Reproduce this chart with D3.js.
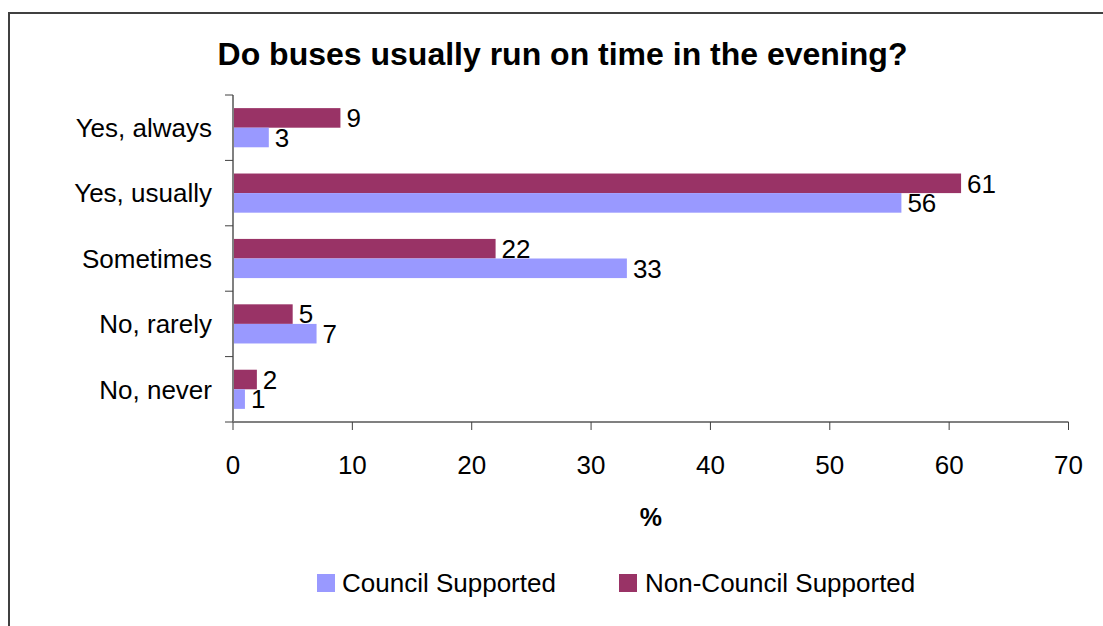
<!DOCTYPE html>
<html>
<head>
<meta charset="utf-8">
<script src="https://cdn.jsdelivr.net/npm/d3@7"></script>
<style>
  body { margin: 0; background: #fff; }
  svg { display: block; font-family: "Liberation Sans", Arial, sans-serif; }
</style>
</head>
<body>
<svg id="chart" width="1103" height="626"></svg>
<script>
// chart data
const categories = ["Yes, always", "Yes, usually", "Sometimes", "No, rarely", "No, never"];
const seriesNames = ["Non-Council Supported", "Council Supported"];
const nonCouncil = [9, 61, 22, 5, 2];
const council = [3, 56, 33, 7, 1];
const xTicks = [0, 10, 20, 30, 40, 50, 60, 70];
const colors = { "Council Supported": "#9999ff", "Non-Council Supported": "#993366" };

const svg = d3.select("#chart");

// outer frame (runs off the right and bottom edge)
svg.append("rect")
  .attr("x", 9).attr("y", 13)
  .attr("width", 1110).attr("height", 640)
  .attr("fill", "none")
  .attr("stroke", "#404040")
  .attr("stroke-width", 2);

// plot area
const plotLeft = 233, plotRight = 1068.5, plotTop = 95, plotBottom = 422;

const x = d3.scaleLinear().domain([0, 70]).range([plotLeft, plotRight]);
const y = d3.scaleBand().domain(categories).range([plotTop, plotBottom]).padding(0);
const ySub = d3.scaleBand().domain(seriesNames).range([0, y.bandwidth()])
  .paddingInner(0).paddingOuter(0.67);

// rows of data
const rows = categories.map((c, i) => ({
  cat: c,
  vals: [
    { name: "Non-Council Supported", v: nonCouncil[i] },
    { name: "Council Supported", v: council[i] }
  ]
}));

// title
svg.append("text")
  .attr("x", (221 + 904) / 2)
  .attr("y", 65)
  .attr("text-anchor", "middle")
  .attr("font-size", "32px")
  .attr("font-weight", "bold")
  .text("Do buses usually run on time in the evening?");

// bars
const groups = svg.append("g").selectAll("g")
  .data(rows)
  .join("g")
  .attr("transform", d => "translate(0," + y(d.cat) + ")");

groups.selectAll("rect")
  .data(d => d.vals)
  .join("rect")
  .attr("x", x(0))
  .attr("y", d => ySub(d.name))
  .attr("width", d => x(d.v) - x(0))
  .attr("height", ySub.bandwidth())
  .attr("fill", d => colors[d.name]);

// value labels
groups.selectAll("text")
  .data(d => d.vals)
  .join("text")
  .attr("x", d => x(d.v) + 6)
  .attr("y", d => ySub(d.name) + ySub.bandwidth() / 2)
  .attr("dy", "0.36em")
  .attr("font-size", "26px")
  .text(d => d.v);

// y axis: line, ticks at band edges, labels
const yAxis = svg.append("g");
yAxis.append("line")
  .attr("x1", plotLeft).attr("x2", plotLeft)
  .attr("y1", plotTop).attr("y2", plotBottom)
  .attr("stroke", "#808080").attr("stroke-width", 2);
const edges = categories.map(c => y(c)).concat([plotBottom]);
yAxis.selectAll("line.tick")
  .data(edges)
  .join("line")
  .attr("class", "tick")
  .attr("x1", plotLeft - 8).attr("x2", plotLeft)
  .attr("y1", d => d).attr("y2", d => d)
  .attr("stroke", "#404040").attr("stroke-width", 1);
yAxis.selectAll("text")
  .data(categories)
  .join("text")
  .attr("x", 212)
  .attr("y", d => y(d) + y.bandwidth() / 2)
  .attr("dy", "0.36em")
  .attr("text-anchor", "end")
  .attr("font-size", "26px")
  .text(d => d);

// x axis
const xAxis = svg.append("g");
xAxis.append("line")
  .attr("x1", plotLeft).attr("x2", plotRight)
  .attr("y1", plotBottom).attr("y2", plotBottom)
  .attr("stroke", "#808080").attr("stroke-width", 2);
xAxis.selectAll("line.tick")
  .data(xTicks)
  .join("line")
  .attr("class", "tick")
  .attr("x1", d => x(d)).attr("x2", d => x(d))
  .attr("y1", plotBottom).attr("y2", plotBottom + 8)
  .attr("stroke", "#404040").attr("stroke-width", 1);
xAxis.selectAll("text")
  .data(xTicks)
  .join("text")
  .attr("x", d => x(d))
  .attr("y", 474)
  .attr("text-anchor", "middle")
  .attr("font-size", "26px")
  .text(d => d);

// axis title
svg.append("text")
  .attr("x", (plotLeft + plotRight) / 2)
  .attr("y", 526)
  .attr("text-anchor", "middle")
  .attr("font-size", "25px")
  .attr("font-weight", "bold")
  .text("%");

// legend
const legendItems = [
  { name: "Council Supported", sx: 317, tx: 342 },
  { name: "Non-Council Supported", sx: 619, tx: 645 }
];
const legend = svg.append("g");
legend.selectAll("rect")
  .data(legendItems)
  .join("rect")
  .attr("x", d => d.sx).attr("y", 574)
  .attr("width", 18).attr("height", 18)
  .attr("fill", d => colors[d.name]);
legend.selectAll("text")
  .data(legendItems)
  .join("text")
  .attr("x", d => d.tx)
  .attr("y", 592)
  .attr("font-size", "26px")
  .text(d => d.name);
</script>
</body>
</html>
